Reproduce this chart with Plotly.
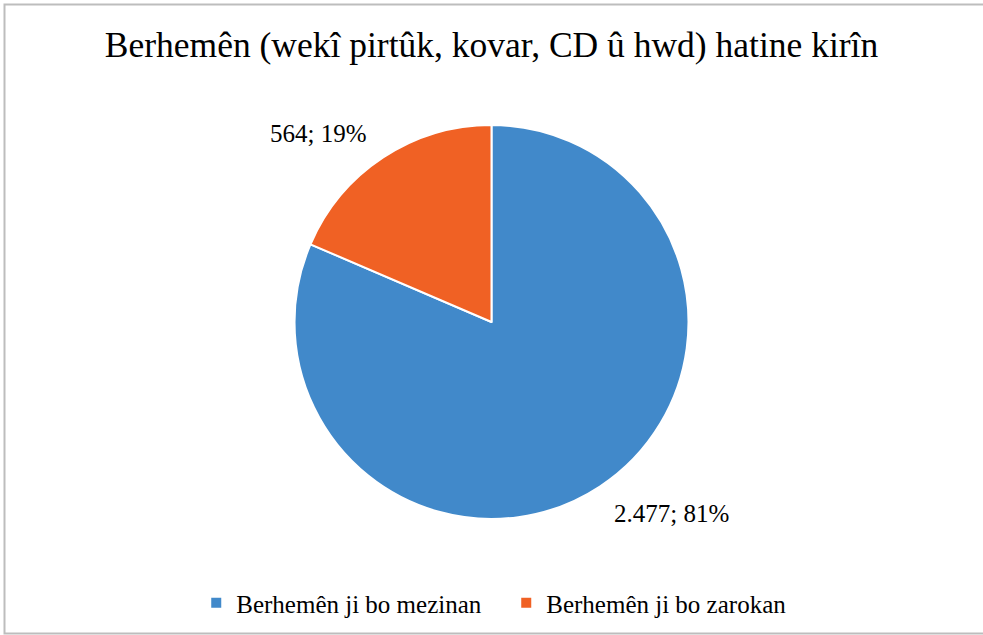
import plotly.graph_objects as go

title = "Berhemên (wekî pirtûk, kovar, CD û hwd) hatine kirîn"
categories = ["Berhemên ji bo mezinan", "Berhemên ji bo zarokan"]
values = [2477, 564]
colors = ["#4189CA", "#F06124"]
label_pos = [(0.6836, 0.1906), (0.3245, 0.789)]

W, H = 983, 635
FONT = "Liberation Serif, Times New Roman, serif"

total = sum(values)


def fmt(v):
    return f"{v:,}".replace(",", ".")


fig = go.Figure(
    go.Pie(
        labels=categories,
        values=values,
        sort=False,
        direction="clockwise",
        rotation=0,
        marker=dict(colors=colors, line=dict(color="white", width=2)),
        textinfo="none",
        hoverinfo="label+value+percent",
        domain=dict(x=[0, 1], y=[0.1827, 0.8031]),
    )
)

annotations = []
for v, (ax, ay) in zip(values, label_pos):
    annotations.append(
        dict(
            text=f"{fmt(v)}; {round(100 * v / total)}%",
            x=ax, y=ay, xref="paper", yref="paper",
            xanchor="center", yanchor="middle", showarrow=False,
            font=dict(family=FONT, size=25, color="#000000"),
        )
    )

fig.update_layout(
    width=W, height=H,
    margin=dict(l=0, r=0, t=0, b=0),
    paper_bgcolor="white", plot_bgcolor="white",
    title=dict(
        text=title, x=0.5, xanchor="center", y=1 - 45 / H, yanchor="middle",
        font=dict(family=FONT, size=35.5, color="#000000"),
    ),
    legend=dict(
        orientation="h", x=0.515, xanchor="center", y=(H - 603) / H, yanchor="middle",
        font=dict(family=FONT, size=25, color="#000000"),
        itemsizing="constant", traceorder="normal",
        entrywidth=265, entrywidthmode="pixels",
    ),
    annotations=annotations,
    shapes=[
        dict(
            type="rect", xref="paper", yref="paper",
            x0=4.5 / W, x1=1.02, y0=1.5 / H, y1=1 - 4.5 / H,
            line=dict(color="#BDBDBD", width=2), fillcolor="rgba(0,0,0,0)",
            layer="above",
        )
    ],
)

fig.write_html("out.html")
